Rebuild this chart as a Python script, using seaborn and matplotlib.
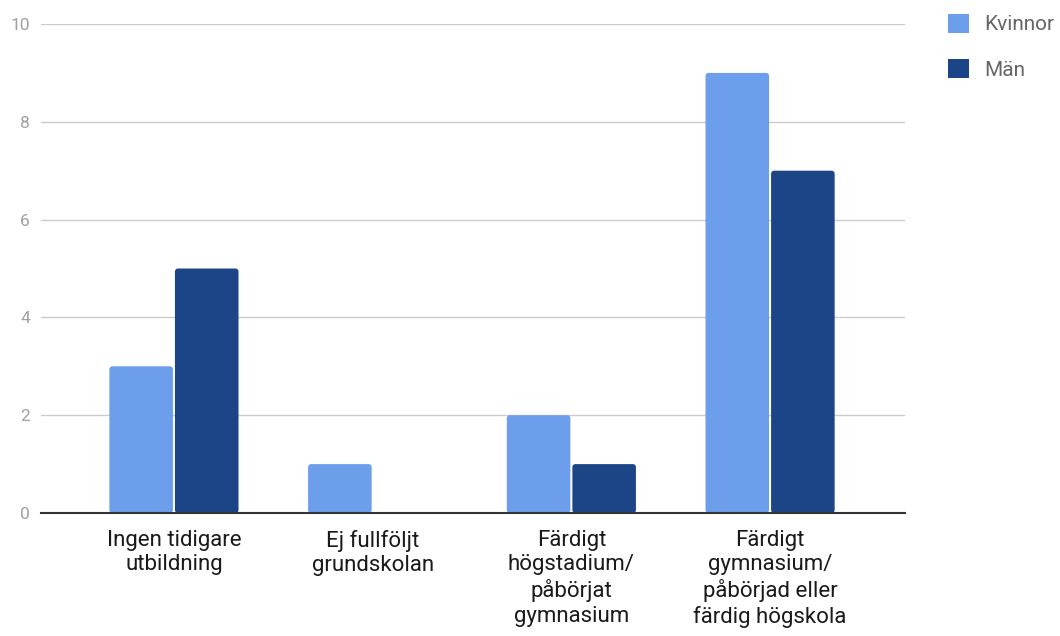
import matplotlib
matplotlib.use("Agg")
import matplotlib.pyplot as plt
from matplotlib.patches import FancyBboxPatch, Patch
import seaborn as sns
import pandas as pd

categories = [
    "Ingen tidigare\nutbildning",
    "Ej fullföljt\ngrundskolan",
    "Färdigt\nhögstadium/\npåbörjat\ngymnasium",
    "Färdigt\ngymnasium/\npåbörjad eller\nfärdig högskola",
]
kvinnor = [3, 1, 2, 9]
man = [5, 0, 1, 7]
series = ["Kvinnor", "Män"]
colors = ["#6d9eeb", "#1c4587"]

df = pd.DataFrame({
    "kategori": categories * 2,
    "antal": kvinnor + man,
    "kon": [series[0]] * len(categories) + [series[1]] * len(categories),
})

sns.set_theme(style="white")
plt.rcParams["font.family"] = ["Roboto", "DejaVu Sans"]

fig = plt.figure(figsize=(10.6, 6.36), dpi=100)
ax = fig.add_axes([41 / 1060, 1 - 513 / 636, 864 / 1060, 489 / 636])

sns.barplot(data=df, x="kategori", y="antal", hue="kon", palette=colors,
            width=0.66, saturation=1, ax=ax, legend=False)

x_lo, x_hi = -0.669, 3.679
ax.set_xlim(x_lo, x_hi)
ax.set_ylim(0, 10)
ax.set_yticks(range(0, 11, 2))

# rounded top corners: rebuild each bar as a fancy box
px_x = 864 / (x_hi - x_lo)
px_y = 489 / 10
aspect = px_x / px_y
for bar in list(ax.patches):
    h = bar.get_height()
    x0 = bar.get_x()
    w = bar.get_width()
    fc = bar.get_facecolor()
    bar.remove()
    if h <= 0:
        continue
    gap = 1.0 / px_x
    fb = FancyBboxPatch((x0 + gap, 0), w - 2 * gap, h,
                        boxstyle=f"round,pad=0,rounding_size={3 / px_x}",
                        mutation_aspect=aspect, facecolor=fc,
                        edgecolor="none", zorder=2)
    ax.add_patch(fb)

ax.grid(axis="y", color="#cccccc", linewidth=1)
ax.set_axisbelow(True)
for s in ["top", "right", "left"]:
    ax.spines[s].set_visible(False)
ax.spines["bottom"].set_color("#333333")
ax.spines["bottom"].set_linewidth(1.5)
ax.spines["bottom"].set_zorder(3)

ax.set_xlabel("")
ax.set_ylabel("")
ax.tick_params(axis="y", length=0, pad=8, labelsize=12.5, labelcolor="#a0a0a0")
ax.tick_params(axis="x", length=0, pad=12, labelsize=16, labelcolor="#1a1a1a")
for lbl in ax.get_xticklabels():
    lbl.set_linespacing(1.22)

handles = [Patch(facecolor=c, edgecolor="none") for c in colors]
fig.legend(handles, series, loc="upper left", bbox_to_anchor=(948 / 1060, 1 - 14 / 636),
           frameon=False, fontsize=15, labelcolor="#666666",
           handlelength=1.0, handleheight=1.0, handletextpad=0.75,
           labelspacing=1.2, borderaxespad=0, borderpad=0)

fig.savefig("out.png", dpi=100)
